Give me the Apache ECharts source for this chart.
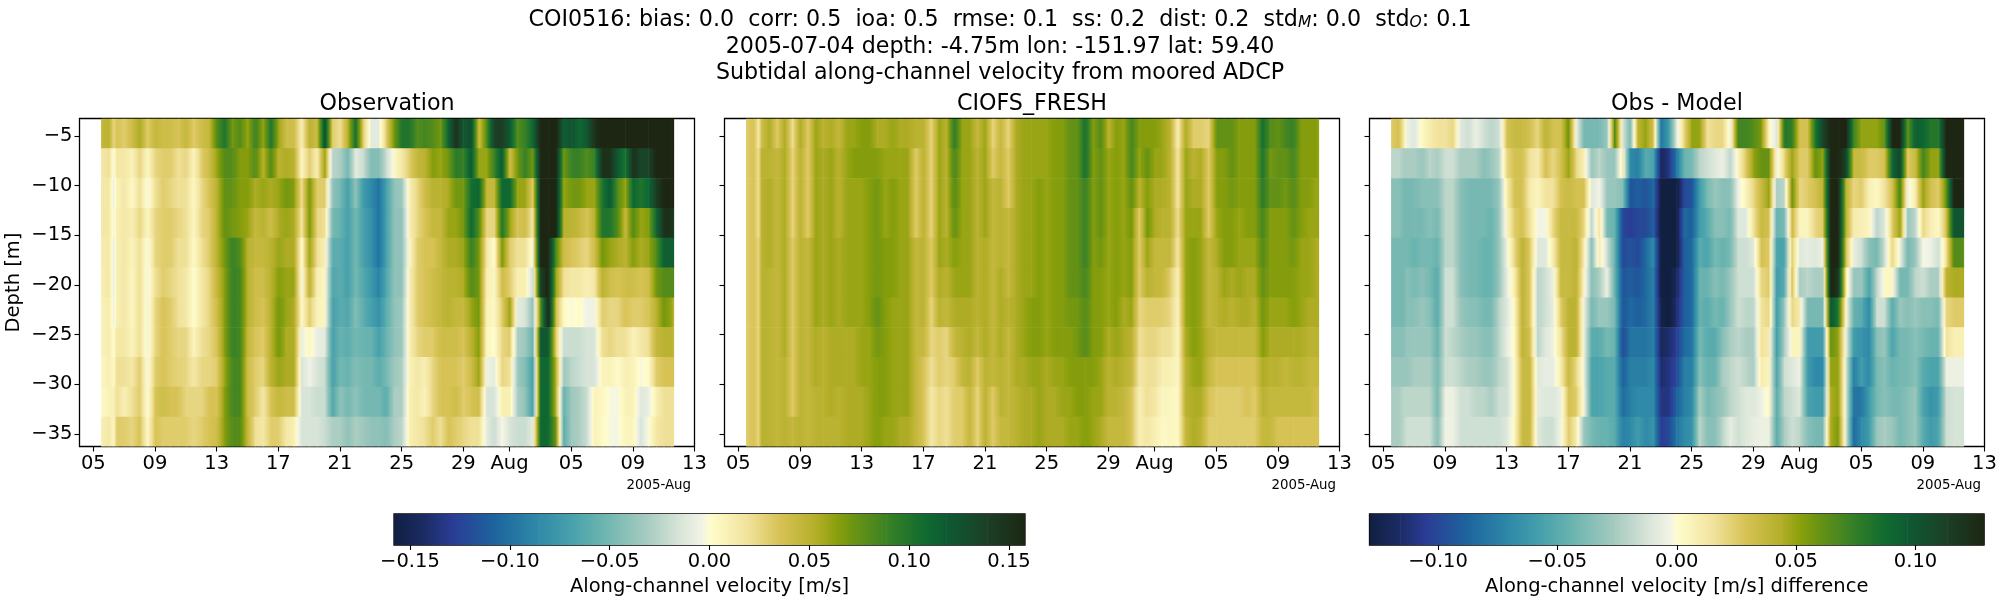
<!DOCTYPE html>
<html><head><meta charset="utf-8">
<script src="https://cdn.jsdelivr.net/npm/echarts@6/dist/echarts.min.js"></script>
<style>html,body{margin:0;padding:0;background:#fff}#c{width:2000px;height:600px}</style></head>
<body><div id="c"></div>
<script>
// time in days counted from 2005-07-00 (Aug 1 = 32)
const times = [5.5,6,6.3,6.5,7,7.5,8,8.5,9,9.5,10,10.5,11,11.5,12,12.5,13,13.5,14,14.5,15,15.5,16,16.5,17,17.5,18,18.5,19,19.5,20,20.5,21,21.5,22,22.5,23,23.5,24,24.5,25,25.5,26,26.5,27,27.5,28,28.5,29,29.5,30,30.5,31,31.5,32,32.5,33,33.5,34,34.5,35,35.5,36,36.5,37,37.5,38,38.5,39,39.5,40,40.5,41,41.5,42,42.5,42.64];
const depths = [-4.75,-7.75,-10.75,-13.75,-16.75,-19.75,-22.75,-25.75,-28.75,-31.75,-34.75];
const xTickValues = [5,9,13,17,21,25,29,32,36,40,44];
const xTickLabels = ['05','09','13','17','21','25','29','Aug','05','09','13'];
const yTickValues = [-35,-30,-25,-20,-15,-10,-5];
const cbTicksObs = [-0.15,-0.10,-0.05,0,0.05,0.10,0.15];
const cbTicksDiff = [-0.10,-0.05,0,0.05,0.10];

// Observation, cm/s, one list per depth
const obs01=[4.5,5,2.5,3.5,3,4,5.5,3,4.5,4,4,3.5,4.5,3,4,4.5,8,10,7,8,6,9,6,10,6,4,4,1,5,4,13,3,2,5,10.5,3,-1,-1,3,7, 10,10,8,8.5,8,7,11,15,12,13,4,8,14,14,12,8,9,11,16,16,16,11.5,12.5,11,12,15,16,16,16,16,16,16,16,16,16,16,16];
const obs02=[1.5,2,-.3,1.5,1.5,.8,2.5,.5,2.5,3,3,2,2.5,.7,3,4,6,8,8,6.5,6.5,8,5,8,5,5.5,5,.5,3,1,6,-2.5,-3,-5,-1,-2,-4.5,-4.5,-2,.3, 1.5,3,4.5,5,6.5,6,7,9.5,9,12,6,6,9,12,4,7,9,7,16,16,16,7,9,9,8,9,15,15,12,10,15,13.5,13.5,16,16,16,16];
const obs03=[1.5,1.5,-.7,.8,1.5,.3,2,-.3,2,3,2.5,2,2,.4,2.4,3.5,5,7.5,7.5,6.5,6.5,5.5,6,5.5,6,7,6.5,2,7,3,3,-4,-5,-7,-4,-7.5,-8.5,-10,-7,-4, -3.5,1,2.5,4,5,5,5.5,7,7,10.5,11,4.5,4.5,11,11,6,6,3,16,16,16,6,7,7,6,6,10,12,8,6,11,10,11,14,16,16,16];
const obs04=[1.5,1.5,-.5,1,1.5,1,2.5,.5,2.5,3,3,2.5,2,.5,2.5,3,5,7.5,7,6.5,6,4.5,5,4,5.5,6,5.5,1.5,7,2.5,2,-5,-5.5,-7,-5,-7,-8,-10,-7,-4, -4,1,2.5,3.5,4.5,4.5,6,6,7,11,8,2.5,2.5,10,6,3.5,4,1.5,16,16,16,5,5,4.5,3.5,5,10,10,8,4.5,8,6,6.5,11,15,15,14];
const obs05=[1.2,1.5,-.8,1,1.5,.7,2,-.3,2.5,3,3,2,2,.3,2,3,5,7,9,8,5,4.5,4.5,5,6,5.5,5.5,0,6,2,1,-6,-6,-7,-5,-7,-8,-10,-7,-4, -4,.5,3,3.5,3.5,4.5,5.5,5.5,6,9,7,1.5,0,7,3,2,2,-.5,16,16,8,4,3.5,3,2.5,4,7,6,5.5,5,6.5,5.5,6,8,11.5,11.5,11.5];
const obs06=[1,1.5,-.8,1,1.5,.5,2,-.5,2,3,2.5,2,1.5,0,1.5,2.5,4.5,6.5,9,8.5,5,4,4,5,6.5,6,6,-.3,5,1,.5,-6.5,-6,-7,-5,-6.5,-7.5,-9,-6.5,-4, -4,1,3,3.5,4,4.5,5,5,5.5,8,7,1,.5,4,3,1,1,-2,14,16,6,2,1.5,1.5,1,1.5,5,4,3.5,4,4,3.5,4,7,8,8,8];
const obs07=[.8,1.2,-.6,1,1.5,.5,2,-.5,2.5,3.5,3,2,1.5,0,1.5,2.5,4,6.5,9,8.5,5,4,3.5,5,7,6,5.5,.3,3,.8,.5,-7,-6,-6.5,-4.5,-6,-7,-8,-6,-4, -3.5,1,3,3.5,4,4.5,5,4.5,4.5,6,7,.8,.4,3,6,-1,-1.5,-4,8,16,4,.3,-.2,.2,-.5,-.5,3,2.5,2.5,3.5,3,3,3.5,5,7,6,5];
const obs08=[.8,1.2,0,1.5,1.5,.7,2,-.5,2.5,3.5,3,2.5,2.5,.7,2,2.5,3.5,6.5,9,8.5,4.5,3.5,3,5,7,5.5,5.5,-.8,.5,-.8,-1,-7,-5.5,-6,-5,-5.5,-5.5,-7,-5.5,-4, -3.5,1,2.5,3,3,4,4,4,3.5,5,6.5,.5,0,2.5,3,-3,-3.5,-5.5,12,12,3,-2,-2,-2,-1.5,-1.5,2,2.5,2,2,.8,1.5,2,4.5,5,5,4.5];
const obs09=[.5,1,.3,2,2,1.5,3,-.3,3,3.5,3,2.7,2.5,1.5,2.5,2.5,3,6,8.5,8.5,4,3,2.5,5,6,5.5,5.5,-1.5,-.5,-1.5,-2,-7,-5,-5.5,-4.5,-5,-5,-6,-5,-3.5, -3,.8,1.5,1,2.5,3.5,3.5,3.5,3,4,6,-.5,-1,2.5,2,-3.5,-4.5,-7,11,11,5,-3.5,-2.5,-2,-1.5,-1.5,.7,.8,.2,1,.8,-.2,.2,3,3.5,3.5,3.5];
const obs10=[.3,.8,.8,2,1,2,3,-.2,3.5,4,3.5,3.5,2.5,2.5,2.5,3.5,3.5,6.5,8.5,8.5,4,3,1.5,3.5,4.5,4,4,-1.5,-1.5,-2,-2,-6.5,-4,-5,-4,-5,-5,-5,-6,-3, -3,1,1.5,.8,2.5,3.5,3.5,4,3,3.5,4,-1.5,-1.5,1,1,-3,-4,-7,11,11,5,-5.5,-3.5,-3,-2,.8,.4,-.2,-.3,.8,.8,-1.2,-.8,1,2,2,2];
const obs11=[1,1.5,.5,3,3,2.5,3.5,.3,3.5,3,3,3,3,2.5,3,3.5,4,6.5,8,8,4.5,2,1.5,3,3,1.5,1,-1.5,-1.5,-1.5,-2,-3,-3,-4,-3,-3.5,-4,-4,-4.5,-3, -2.5,1,1.5,2,3,2,3.5,3,2.5,2,2,-1,-2,-.2,-1.5,-2,-2,-1,11,11,7,-6,-3.5,-3,-2,.8,.2,-.2,-.3,.6,.6,-1.5,-.1,1.5,2,2,2];

// CIOFS_FRESH model, cm/s
const mod01=[3,3.5,1.5,4,5.5,3,5.5,2,5.5,3,6,5,5.5,4.5,6,6,6.5,6.5,5.5,5.5,6,5.5,5.5,5,5,2.5,6,5,9.5,6,6,4.5,6,2.5,4.5,2.5,5.5,6,6,6, 6,6.5,6.5,7.5,7.5,10.5,6.5,8,5,6.5,6,8.5,6.5,6.5,6.5,6,5,1,5.5,3,3,2.5,7.5,7.5,7.5,6.5,6.5,6.5,10.5,8,7.5,8.5,9,6.5,6.5,6.5,6];
const mod02=[3,3.5,2,5,5,4.5,5.5,2.5,5,3,6,5.5,6,5,6,6.5,6.5,6.5,6.5,6,6,6,6,3,5,2.5,6,5,8.5,6,6,5,6,3,4.5,3,5.5,6,6,6, 6,6.5,6.5,7.5,7.5,10.5,6.5,7.5,6,6.5,6,8.5,6,7.5,6,6,5,1.5,6,5,5.5,3,6.5,6.5,7.5,6.5,6.5,6.5,10,7,7.5,7.5,8.5,6.5,6.5,6.5,6];
const mod03=[3,3.5,2,5,5.5,4.5,5.5,2.5,5,3,6,5.5,6,5,6,6,6,6.5,7,6,6.5,6,6,3,5,2.5,6,5,8,6,6,5,6,4.5,5,3,5.5,6,6,6.5, 6,6.5,6.5,7.5,7.5,9,6.5,7.5,6,6.5,6,7.5,5,6.5,5.5,5.5,5,1.5,6,5.5,5.5,3,6.5,6.5,7,6.5,6.5,6.5,9.5,7.5,7.5,7,8,6.5,6.5,6,6];
const mod04=[3,3.5,2,5,5.5,4.5,5.5,2.5,5,3,6,5.5,6,5,6,6,6,6.5,7,6,6.5,6,6,3,5,2.5,6,5,7.5,6,6,5,6,4.5,5,4.5,5.5,6,6,6.5, 6,6.5,6.5,7.5,7.5,9,6.5,7.5,6,6.5,6,7,3,7,5.5,5,5,2,6,6,6,3,6,6.5,6.5,6,6.5,6.5,8.5,6.5,6.5,6.5,7.5,6.5,6,6,6];
const mod05=[3,3.5,2.5,5,5.5,4.5,5.5,3,5,4.5,6,5.5,6,5.5,6,6,6,6.5,7,6.5,6.5,6,6,4.5,5,3,6,5.5,6.5,6,6,5,5.5,4.5,5,4.5,5.5,6,6,6.5, 6,6.5,6.5,7.5,7.5,9,6.5,7,6,6.5,6,6.5,3,6,4.5,4.5,4.5,1.5,6,6.5,6,4.5,5.5,6.5,6.5,6,6,6,8,6.5,6.5,6.5,7,6,6,5.5,5.5];
const mod06=[3,3.5,2.5,5,5,4.5,5.5,3,5,4.5,6,5.5,6,5.5,6,6,6,6.5,7,6.5,6.5,6,6,4.5,5,3,5.5,5,6,6,6,5,5.5,4.5,5.5,4.5,5.5,6,6,6.5, 6,6.5,6.5,7.5,7.5,8.5,6.5,6.5,6,6.5,6,6.5,3,5,4.5,4.5,3,1,6,6.5,6,4.5,5,6,5.5,6,5.5,5.5,7.5,6.5,6.5,6.5,6.5,6,6,5.5,5.5];
const mod07=[3,3.5,2.5,5,5,4.5,5.5,3,5,4.5,6,5.5,6,5.5,6,6,6,6.5,7.5,6.5,6,6,6,4.5,5,2.5,5,4.5,5.5,5.5,5.5,5,5.5,4.5,5.5,5,5.5,6,6.5,6.5, 6,6.5,6.5,7,7,8,6.5,6.5,6,6.5,5.5,6,2.5,3,3,3,2.5,.7,6,6.5,6,4.5,5,5.5,5,5.5,5.5,5,7,6,6,6,6.5,6,5.5,5.5,5.5];
const mod08=[3,3.5,2.5,5,5,4.5,5.5,3,5,4.5,5.5,5,5.5,5.5,5.5,5.5,6,6,7,6.5,6,6,6,4.5,4.5,2.5,3,2.5,4.5,5,5.5,4.5,5.5,4.5,5.5,4.5,5.5,6,6.5,6.5, 6,6.5,6.5,6.5,7,8,6.5,6.5,5.5,6,5.5,5,2,2.5,2.5,2,2,.5,5.5,6.5,6,5,4.5,4.5,4.5,4.5,4.5,4.5,6.5,5.5,5.5,5.5,5.5,5.5,5,5,5];
const mod09=[3,3.5,2.5,5,5,4.5,5,3,5,4.5,5.5,5,5.5,5.5,5.5,5.5,6,6,6.5,6.5,6,6,6,4.5,3.5,2,3,2.5,3,4.5,5,3,5,4.5,5,4.5,5.5,5.5,6,6, 5.5,6,6,6.5,6.5,6.5,6.5,6,5,5.5,5,4.5,1.5,2,2,1,1,.5,5,6,6,4.5,3.5,3.5,3.5,3.5,3.5,3.5,5.5,5,5,4.5,5,5,4.5,4.5,4.5];
const mod10=[3,3.5,2.5,5,5,4.5,5,3,5,4.5,5,5,5.5,5,5.5,5.5,5.5,6,6.5,6.5,6,6,6,4.5,3.5,1.5,2.5,2,3,3,4.5,2.5,5,3,5,4.5,5,5.5,5.5,6, 5.5,5.5,6,6,6.5,6.5,6,6,5,5,4.5,3.5,1,2,1.5,.5,.5,.3,5,5.5,5.5,3.5,3,3,3,3,3.5,3,5,4.5,4.5,4.5,4.5,4.5,4.5,4,4];
const mod11=[3,3.5,2.5,5,5,4.5,5,4.5,5,4.5,5,5,5,5,5.5,5.5,5.5,6,6.5,6,6,5.5,5.5,4.5,3.5,1.5,2.5,2,3,3,4.5,2.5,5,3,4.5,4.5,5,5.5,5.5,6, 5.5,5.5,5.5,6,6,6.5,6,5.5,4.5,4.5,4.5,3.5,1,1.5,1,.3,.5,.3,4.5,5.5,5,3,3,3,3,3,3,3,4.5,4.5,3.5,3.5,3.5,3.5,3.5,3.5,3.5];

// Obs - Model, cm/s
const dif01=[2.5,3,1.2,-.5,-1,.3,1,1.5,1.5,2,-1,-1.5,-.5,-1.5,-2,-1.5,3,3.5,3.5,3,2,4,3,3,6,-.5,-4,-4,-4,-3,7,-1,-4,4,5,3,-8,-6,-1,2, 5,5,1.5,2,2,-.5,7,7,6.5,5.5,.5,-1,8,7.5,3,3,8,11,13,13,13,7,5,5,5,6,13,13,6,9.5,9,8,8,13,13,13,13];
const dif02=[-2,-2,-2.5,-2.5,-2.5,-3,-2,-2.5,-1.5,-1.5,-2.5,-2.5,-2.5,-3.5,-3,-2,2,3,3,1.5,1,3,2,3,5,2,.8,-3,-2,-3,-3,1,-7,-7.5,-5,-5.5,-12,-11,-8,-4.5, -4,-2,-1.5,-1,-.5,-2,.5,2.5,5,6,6,-.5,2,5,2.5,2.5,6,5,13,13,11,3.5,3.5,2.5,2.5,3,9,11,2.5,3.5,7,5,5,13,13,13,13];
const dif03=[-3.5,-3.5,-4,-4,-4,-3.5,-3.5,-3.5,-2,-2,-3.5,-4,-4,-4,-4,-3,1,3,3,1,.5,1.5,1.5,3,3.5,3,3,-1,-.3,-3,-3,-3.5,-9.5,-9,-9.5,-8.5,-13,-13,-13,-10, -9.5,-6,-4,-3,-3.5,-3.5,-.5,.5,2,3.5,5,-2.5,-2,6,2,2.5,3,4,13,13,4,2,2.5,.8,.3,1.5,3,7,-.5,1,5,3,2.5,6,13,13,13];
const dif04=[-3.5,-3.5,-4,-4,-4,-4,-3.5,-4,-2,-2,-3.5,-4,-4,-4,-4.5,-3,.5,2.5,3,1.5,-.3,-.3,2,3.5,3.5,3.5,2,-2,1.5,-4,-4.5,-10,-10.5,-10,-10,-9,-13,-13,-13,-8.5, -9,-6,-5,-3.5,-3.5,-4,-1,-1,1.5,3.5,3,-4.5,-4,3.5,.5,.5,2,2.5,13,13,4,1,.8,.5,-2,-1,2.5,5,-3,-2,2,.8,.3,3,10,10,10];
const dif05=[-4,-4,-4,-4,-4.5,-4,-4,-4.5,-2,-2,-3.5,-4,-4,-4.5,-4.5,-3,-.5,2,4,2.5,-1,-1,1,3.5,3.5,4,1,-3.5,1,-1.5,-4.5,-10,-9.5,-10,-8.5,-7,-13,-13,-13,-9, -8.5,-5,-5.5,-4,-4.5,-4,-1.5,-1.5,-1,3,2.5,-5.5,-5.5,2.5,-1,-.7,-1,-.5,13,13,3,-.7,-1.5,-3.5,-4,-1.5,2,-.5,-4,-3,-.2,-.5,-1.5,1.5,6.5,6.5,6];
const dif06=[-4,-4,-4,-3.5,-4,-3.5,-4,-5,-1.5,-1.5,-3.5,-4,-4,-4.5,-4.5,-3,-.7,1,4,2.5,-2,-1.5,-.5,3.5,3.5,4,.5,-3.5,-2.5,-.5,-4.5,-9.5,-9,-9.5,-8.5,-7.5,-13,-13,-12,-9, -8.5,-4.5,-4.5,-3.5,-4,-3,-1.5,-1.5,-1.5,2,2.5,-6,-5,3,-2.5,-2,-2.5,-2.5,13,12,1,-3,-3,-5.5,-2,.3,.3,-4,-4,-2,-1.5,-2.5,-2.5,4,4.5,4.5,4.5];
const dif07=[-4,-4,-4,-3.5,-3.5,-3,-3.5,-5,-1.5,-1.5,-3,-3.5,-3.5,-4,-4,-2,-1,.5,4,2.5,-2,-1.5,-.7,2.5,4,4,-.5,-4,-3,-3,-4,-9.5,-8.5,-9,-8.5,-7.5,-12.5,-13,-11.5,-9, -8.5,-4.5,-5,-4,-4.5,-3,-1.5,-2,-2,1.5,2,-6,-3,2,1,-4,-4,-4,10,8,0,-4.5,-5,-7,-1.5,-1.5,-5,-3,-3.5,-3,-3.5,-3.5,-4,2,2.5,2.5,2.5];
const dif08=[-3.5,-3.5,-3.5,-3,-3,-3,-3,-4.5,-1.5,-2,-2.5,-3,-3,-3.5,-3.5,-2,-.7,.3,4,3,-2,-1,-.5,1.5,4,4,-.5,-5,-5,-4,-4.5,-10,-8,-8,-8,-7.5,-12,-11.5,-10.5,-8.5, -8,-4,-5,-5,-3.5,-2.5,-2,-2.5,-2.5,1.5,1,-6,-2.5,.5,.5,-6,-6,-6,6,5,-.5,-6,-6.5,-7,-3.5,-3,-5.5,-4,-4,-3.5,-4,-4.5,-4.5,1.5,.8,.8,.8];
const dif09=[-3,-3,-3,-3,-2.5,-2.5,-2.5,-4,-1.5,-1.5,-2,-2.5,-2.5,-3,-3,-2,-1.5,.3,3.5,3.5,-1,-.7,-.7,1,3.5,2,-.5,-5.5,-5.5,-5,-5,-9,-7.5,-7.5,-7.5,-7,-11.5,-11,-10,-7.5, -7.5,-3.5,-4.5,-4.5,-2.5,-2,-1.5,-2,-2.5,1,.5,-5.5,-1.5,-1,-.5,-6,-7,-7,5,5,-1,-7.5,-6,-7,-4,-3.5,-4.5,-4,-4,-3.5,-5,-5.5,-5.5,-.5,-.5,-.5,-.5];
const dif10=[-2.5,-2.5,-2,-2,-2,-2,-2,-4,-.5,-.5,-1.5,-1.5,-2,-2,-2.5,-1.5,-1.5,.3,3.5,3.5,-.8,-1,-1,-.5,3,2.5,-.3,-5.5,-5.5,-5,-5,-8.5,-7.5,-7,-7,-7,-11,-11,-9,-7.5, -7,-2.5,-4,-3.5,-3,-2,-1.5,-1,-1,-.5,.3,-5,-2,-1.5,-1,-5.5,-6,-6,4.5,5,-1,-8,-8,-6,-4,-3.5,-4,-4,-3.5,-3,-5.5,-6.5,-6,-1.5,-1.3,-1.3,-1.3];
const dif11=[-2.5,-2.5,-2,-1.5,-1.5,-1.5,-1.5,-3.5,-.4,-.5,-1.5,-1.5,-1.5,-1.5,-1.5,-1.5,-1,.5,3.5,3.5,-1,-1.5,-1.5,-.3,2.5,1,-3,-4,-4.5,-4.5,-5,-7.5,-7,-6,-7,-6.5,-10.5,-10,-8,-7, -6.5,-2,-3.5,-3.5,-2,-.7,-1.5,-1,-.7,-.5,-.5,-5,-2.5,-1.5,-2,-3.5,-4,-4,4.5,5.5,-1,-8.5,-7,-6,-3,-2.5,-3,-4,-3.5,-3,-5,-6,-5.5,-1.5,-1.3,-1.3,-1.3];

const obsRows=[obs01,obs02,obs03,obs04,obs05,obs06,obs07,obs08,obs09,obs10,obs11];
const modRows=[mod01,mod02,mod03,mod04,mod05,mod06,mod07,mod08,mod09,mod10,mod11];
const difRows=[dif01,dif02,dif03,dif04,dif05,dif06,dif07,dif08,dif09,dif10,dif11];
const vmaxObs=0.158, vmaxDiff=0.1287;

// colormap (cmocean "delta" look), position 0..1 and colour
const cmapPos=[0,.05,.09,.16,.23,.286,.335,.40,.45,.49,.5,.56,.61,.67,.70,.725,.78,.84,.875,.94,1];
const cmapCol=['#111f40','#1c2c66','#2a3b94','#1d659e','#2f8ba8','#4ba3ac','#6fb6b0','#a7cbc0','#d6e3d7','#f3f5e6','#fffdcd','#f1e29c','#d7c356','#b3ae28','#8ba00c','#6f9511','#3a8225','#0f6b30','#0f5a33','#1b3f25','#1c2612'];

const FONT='DejaVu Sans';
const lerp=echarts.color.lerp;
function cmap(f){
  f=Math.max(0,Math.min(1,f));
  let k=0; while(k<cmapPos.length-2&&f>cmapPos[k+1])k++;
  return lerp((f-cmapPos[k])/(cmapPos[k+1]-cmapPos[k]),[cmapCol[k],cmapCol[k+1]]);
}
const dT=3; // depth bin height
function heatRender(vmax){
  return function(params,api){
    const t0=api.value(0),t1=api.value(1),d=api.value(2),v0=api.value(3),v1=api.value(4);
    const a=api.coord([t0,d+dT/2]),b=api.coord([t1,d-dT/2]);
    const stops=[];
    for(let s=0;s<=4;s++){const q=s/4;stops.push({offset:q,color:cmap(((v0+(v1-v0)*q)+vmax)/(2*vmax))});}
    return {type:'rect',shape:{x:a[0],y:a[1],width:b[0]-a[0]+0.6,height:b[1]-a[1]+0.6},
      style:{fill:new echarts.graphic.LinearGradient(0,0,1,0,stops)},silent:true};
  };
}
function heatData(rows){
  const out=[];
  rows.forEach((row,r)=>{
    if(row.length!==times.length) throw new Error('row '+r+' len '+row.length);
    for(let i=0;i<times.length-1;i++) out.push([times[i],times[i+1],depths[r],row[i]/100,row[i+1]/100]);
  });
  return out;
}
function cbData(vmax){
  const out=[];
  for(let k=0;k<cmapPos.length-1;k++) out.push([-vmax+2*vmax*cmapPos[k],-vmax+2*vmax*cmapPos[k+1],cmapCol[k],cmapCol[k+1]]);
  return out;
}
function cbRender(params,api){
  const a=api.coord([api.value(0),1]),b=api.coord([api.value(1),0]);
  const cs=cbDataCache[params.seriesIndex][params.dataIndex];
  return {type:'rect',shape:{x:a[0],y:a[1],width:b[0]-a[0]+0.6,height:b[1]-a[1]},
    style:{fill:new echarts.graphic.LinearGradient(0,0,1,0,[{offset:0,color:cs[2]},{offset:1,color:cs[3]}])},silent:true};
}
const panels=[{l:79.5,title:'Observation',rows:obsRows,vmax:vmaxObs},{l:724.5,title:'CIOFS_FRESH',rows:modRows,vmax:vmaxObs},{l:1369.5,title:'Obs - Model',rows:difRows,vmax:vmaxDiff}];
const W=615,T=118.5,H=328;
const grid=[],xAxis=[],yAxis=[],series=[],cbDataCache={};
const tickLab={fontFamily:FONT,fontSize:19.5,color:'#000'};
panels.forEach((p,i)=>{
  grid.push({left:p.l,top:T,width:W,height:H,show:true,borderColor:'#000',borderWidth:1.3,backgroundColor:'#fff',outerBoundsMode:'none'});
  xAxis.push({gridIndex:i,type:'value',min:4.1,max:44,splitLine:{show:false},axisLine:{show:false},
    axisTick:{show:true,length:5,lineStyle:{color:'#000',width:1.1},customValues:xTickValues},
    axisLabel:{...tickLab,margin:7,customValues:xTickValues,formatter:v=>xTickLabels[xTickValues.indexOf(v)]}});
  yAxis.push({gridIndex:i,type:'value',min:-36.25,max:-3.25,splitLine:{show:false},axisLine:{show:false},
    name:i===0?'Depth [m]':'',nameLocation:'middle',nameGap:56,nameRotate:90,nameTextStyle:{...tickLab},
    axisTick:{show:true,length:5,lineStyle:{color:'#000',width:1.1},customValues:yTickValues},
    axisLabel:{...tickLab,show:i===0,margin:7,customValues:yTickValues,formatter:v=>String(v).replace('-','\u2212')}});
  series.push({type:'custom',coordinateSystem:'cartesian2d',xAxisIndex:i,yAxisIndex:i,renderItem:heatRender(p.vmax),data:heatData(p.rows),encode:{x:[0,1],y:2},clip:true,animation:false,progressive:0,silent:true});
});
[{l:394,w:631,vmax:vmaxObs,ticks:cbTicksObs,name:'Along-channel velocity [m/s]'},{l:1369.5,w:614.5,vmax:vmaxDiff,ticks:cbTicksDiff,name:'Along-channel velocity [m/s] difference'}].forEach((c,j)=>{
  const gi=3+j;
  grid.push({left:c.l,top:514,width:c.w,height:31,show:true,borderColor:'#000',borderWidth:1.3,outerBoundsMode:'none'});
  xAxis.push({gridIndex:gi,type:'value',min:-c.vmax,max:c.vmax,splitLine:{show:false},axisLine:{show:false},
    name:c.name,nameLocation:'middle',nameGap:32,nameTextStyle:{...tickLab},
    axisTick:{show:true,length:5,lineStyle:{color:'#000',width:1.1},customValues:c.ticks},
    axisLabel:{...tickLab,margin:7,customValues:c.ticks,formatter:v=>v.toFixed(2).replace('-','\u2212')}});
  yAxis.push({gridIndex:gi,type:'value',min:0,max:1,show:false});
  const d=cbData(c.vmax);
  cbDataCache[series.length]=d;
  series.push({type:'custom',coordinateSystem:'cartesian2d',xAxisIndex:gi,yAxisIndex:gi,renderItem:cbRender,data:d.map(e=>[e[0],e[1]]),encode:{x:[0,1]},clip:true,animation:false,silent:true});
});
const headStyle={fontFamily:FONT,fontSize:22.2,color:'#000',fontWeight:'normal'};
const title=[
 {text:'COI0516: bias: 0.0  corr: 0.5  ioa: 0.5  rmse: 0.1  ss: 0.2  dist: 0.2  std{s|M}: 0.0  std{s|O}: 0.1',left:1000,top:9,padding:0,textAlign:'center',
  textStyle:{...headStyle,rich:{s:{fontFamily:FONT,fontSize:15.5,fontStyle:'italic',color:'#000',padding:[5,0,0,0]}}}},
 {text:'2005-07-04 depth: -4.75m lon: -151.97 lat: 59.40',left:1000,top:36,padding:0,textAlign:'center',textStyle:headStyle},
 {text:'Subtidal along-channel velocity from moored ADCP',left:1000,top:62.5,padding:0,textAlign:'center',textStyle:headStyle}
];
panels.forEach(p=>title.push({text:p.title,left:p.l+W/2,top:93.5,padding:0,textAlign:'center',textStyle:headStyle}));
const graphic=panels.map(p=>({type:'text',left:p.l+W-68,top:479,style:{text:'2005-Aug',font:'13.33px "DejaVu Sans"',fill:'#000'}}));
const chart=echarts.init(document.getElementById('c'),null,{renderer:'canvas'});
chart.setOption({animation:false,backgroundColor:'#fff',title,grid,xAxis,yAxis,series,graphic});
</script></body></html>
